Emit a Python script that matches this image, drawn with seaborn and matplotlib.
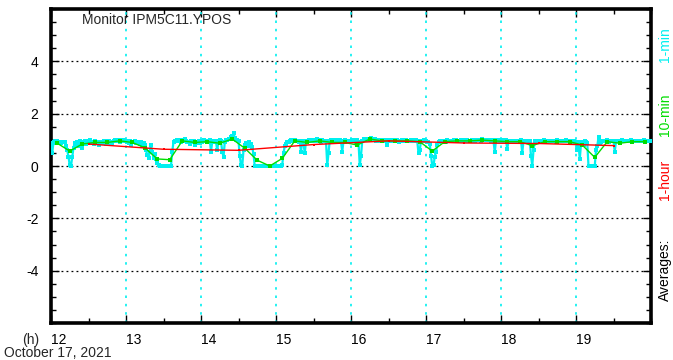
import numpy as np
import pandas as pd
import matplotlib
matplotlib.use("Agg")
import matplotlib.pyplot as plt
import seaborn as sns
from matplotlib.ticker import MultipleLocator, FixedLocator

# 1-minute averages, one row per 10 minutes starting at 12:00
one_min_rows = [
    [0.86, 0.50, 0.92, 0.95, 0.88, 0.97, 0.93, 0.90, 0.86, 0.92],
    [0.92, 0.90, 0.75, 0.60, 0.35, 0.02, 0.00, 0.35, 0.70, 0.88],
    [0.80, 0.92, 0.78, 0.95, 0.88, 0.70, 0.93, 0.97, 0.85, 0.90],
    [0.95, 0.98, 0.88, 0.92, 0.85, 0.97, 0.90, 0.93, 0.82, 0.91],
    [0.93, 0.88, 0.96, 0.90, 0.84, 0.94, 0.97, 0.89, 0.92, 0.86],
    [0.97, 0.99, 0.94, 1.00, 0.96, 0.93, 0.98, 0.95, 1.01, 0.94],
    [0.95, 0.92, 0.88, 0.97, 0.80, 0.93, 0.90, 0.96, 0.86, 0.91],
    [0.92, 0.85, 0.90, 0.75, 0.88, 0.80, 0.60, 0.42, 0.30, 0.55],
    [0.80, 0.55, 0.30, 0.45, 0.25, 0.10, 0.02, 0.00, 0.00, 0.00],
    [0.00, 0.00, 0.00, 0.00, 0.00, 0.00, 0.00, 0.55, 0.92, 0.96],
    [0.97, 1.00, 0.94, 0.98, 0.93, 0.99, 0.95, 1.02, 0.96, 0.92],
    [0.93, 0.85, 0.95, 0.90, 0.97, 0.82, 0.92, 0.88, 0.94, 0.86],
    [0.95, 0.92, 0.98, 0.94, 0.96, 0.97, 0.95, 0.99, 0.55, 0.93],
    [0.95, 0.97, 0.92, 0.60, 0.96, 1.00, 0.94, 0.55, 0.35, 0.90],
    [0.98, 1.00, 1.05, 1.02, 1.10, 1.15, 1.25, 1.08, 0.98, 1.00],
    [0.95, 0.40, 0.02, 0.00, 0.60, 0.82, 0.88, 0.75, 0.90, 0.78],
    [0.85, 0.72, 0.45, 0.00, 0.00, 0.00, 0.00, 0.00, 0.00, 0.00],
    [0.00, 0.00, 0.00, 0.00, 0.00, 0.00, 0.00, 0.00, 0.00, 0.00],
    [0.00, 0.00, 0.00, 0.00, 0.00, 0.05, 0.50, 0.75, 0.85, 0.90],
    [0.93, 0.97, 1.00, 0.95, 0.98, 1.01, 0.94, 0.97, 0.92, 0.96],
    [0.55, 0.95, 0.90, 0.48, 0.97, 0.93, 0.99, 0.94, 1.00, 0.96],
    [0.97, 0.99, 0.94, 1.02, 0.96, 0.98, 0.93, 1.00, 0.95, 0.97],
    [0.95, 0.02, 0.50, 0.97, 0.99, 0.94, 0.98, 0.96, 1.00, 0.93],
    [0.96, 0.98, 0.93, 0.55, 0.95, 0.99, 0.94, 0.97, 0.92, 0.96],
    [0.97, 0.99, 0.95, 0.98, 0.93, 1.00, 0.90, 0.02, 0.40, 0.96],
    [1.02, 1.05, 1.00, 1.04, 0.99, 1.03, 1.06, 1.01, 1.00, 1.04],
    [0.97, 0.99, 0.95, 1.00, 0.96, 0.98, 0.94, 0.99, 0.97, 0.80],
    [0.98, 0.95, 1.00, 0.97, 0.94, 0.99, 0.96, 0.98, 0.93, 0.97],
    [0.97, 0.99, 0.95, 0.98, 1.00, 0.94, 0.97, 0.96, 0.99, 0.95],
    [0.98, 0.96, 0.99, 0.95, 0.50, 0.60, 0.97, 0.94, 0.98, 0.96],
    [0.96, 0.93, 0.90, 0.85, 0.40, 0.00, 0.02, 0.35, 0.55, 0.80],
    [0.90, 0.94, 0.97, 0.95, 0.92, 0.96, 0.93, 0.98, 0.94, 0.95],
    [0.97, 0.95, 0.98, 0.96, 0.99, 0.94, 0.97, 0.96, 0.98, 0.95],
    [0.98, 0.96, 0.95, 0.99, 0.97, 0.94, 0.96, 0.98, 0.95, 0.97],
    [1.00, 0.98, 1.01, 0.99, 0.97, 1.02, 0.98, 1.00, 0.99, 1.01],
    [0.98, 1.00, 0.97, 0.99, 0.96, 0.53, 0.98, 1.00, 0.97, 0.99],
    [0.97, 0.95, 0.98, 0.96, 0.99, 0.65, 0.94, 0.97, 0.95, 0.96],
    [0.96, 0.94, 0.97, 0.95, 0.93, 0.96, 0.98, 0.50, 0.95, 0.97],
    [0.95, 0.97, 0.94, 0.96, 0.40, 0.00, 0.60, 0.95, 0.97, 0.96],
    [0.95, 0.97, 0.94, 0.96, 0.98, 0.93, 0.95, 0.97, 0.94, 0.96],
    [0.96, 0.94, 0.97, 0.95, 0.93, 0.98, 0.96, 0.94, 0.97, 0.95],
    [0.97, 0.95, 0.98, 0.96, 0.94, 0.97, 0.95, 0.93, 0.96, 0.88],
    [0.90, 0.60, 0.90, 0.25, 0.85, 0.92, 0.80, 0.95, 0.90, 0.88],
    [0.00, 0.00, 0.00, 0.00, 0.00, 0.00, 0.60, 0.75, 1.10, 0.88],
    [0.90, 0.95, 0.97, 0.94, 0.96, 0.98, 0.93, 0.95, 0.97, 0.94],
    [0.96, 0.55, 0.94, 0.97, 0.95, 0.93, 0.96, 0.98, 0.94, 0.95],
    [0.95, 0.97, 0.94, 0.96, 0.98, 0.93, 0.95, 0.97, 0.94, 0.96],
    [0.96, 0.94, 0.97, 0.95, 0.98, 0.93, 0.96, 0.94, 0.97, 0.95],
]

# 10-minute averages (centred on each 10-minute block)
ten_min = [
    0.87, 0.57, 0.84, 0.90, 0.90, 0.96,
    0.90, 0.70, 0.27, 0.24, 0.96, 0.90,
    0.93, 0.87, 1.03, 0.68, 0.22, 0.00,
    0.29, 0.96, 0.90, 0.96, 0.90, 0.90,
    0.80, 1.03, 0.96, 0.96, 0.96, 0.93,
    0.57, 0.93, 0.96, 0.96, 0.99, 0.96,
    0.93, 0.93, 0.78, 0.93, 0.93, 0.93,
    0.80, 0.33, 0.93, 0.87, 0.93, 0.93,
]

# 1-hour averages (centred on each hour)
one_hour = [0.84, 0.64, 0.60, 0.82, 0.96, 0.88, 0.86, 0.78]

x_ticks = [12, 13, 14, 15, 16, 17, 18, 19]
y_ticks = [-4, -2, 0, 2, 4]

one_min = [v for row in one_min_rows for v in row]
df_min = pd.DataFrame({"hour": 12 + np.arange(len(one_min)) / 60.0, "value": one_min})
df_ten = pd.DataFrame({"hour": 12 + (np.arange(len(ten_min)) + 0.5) / 6.0, "value": ten_min})
df_hour = pd.DataFrame({"hour": 12.5 + np.arange(len(one_hour)), "value": one_hour})

sns.set_style("ticks")
plt.rcParams["font.family"] = ["Liberation Sans", "DejaVu Sans"]

fig = plt.figure(figsize=(6.73, 3.6), dpi=100)
ax = fig.add_axes([51 / 673, 37 / 360, 600 / 673, 314 / 360])

CYAN = "#00f0f0"
GREEN = "#00dd00"
RED = "#ff0000"

sns.lineplot(data=df_min, x="hour", y="value", ax=ax, color=CYAN, linewidth=1.6,
             marker="s", markersize=2.8, markeredgewidth=0, zorder=3)
sns.lineplot(data=df_ten, x="hour", y="value", ax=ax, color=GREEN, linewidth=1.0,
             marker="s", markersize=3.5, markeredgewidth=0, zorder=4)
sns.lineplot(data=df_hour, x="hour", y="value", ax=ax, color=RED, linewidth=1.0,
             marker="s", markersize=1.8, markeredgewidth=0, zorder=5)

ax.set_xlim(12, 20)
ax.set_ylim(-6, 6)

# grid: cyan dotted verticals at each hour, black dotted horizontals
for h in x_ticks[1:]:
    ax.axvline(h, color=CYAN, linestyle=(0, (1.5, 3.5)), linewidth=1.2, zorder=1)
for v in y_ticks:
    ax.axhline(v, color="black", linestyle=(0, (1.5, 2.5)), linewidth=0.9, zorder=1)

ax.xaxis.set_major_locator(FixedLocator(x_ticks))
ax.xaxis.set_minor_locator(MultipleLocator(0.5))
ax.yaxis.set_major_locator(FixedLocator(y_ticks))
ax.yaxis.set_minor_locator(MultipleLocator(0.5))
ax.set_xticklabels([str(t) for t in x_ticks])
ax.set_yticklabels([str(t) for t in y_ticks])
for lbl in ax.get_xticklabels():
    lbl.set_horizontalalignment("left")

ax.tick_params(which="both", direction="in", top=True, right=True, colors="black",
               labelsize=10)
ax.tick_params(which="major", length=6, width=1.0)
ax.tick_params(which="minor", length=3.5, width=1.0)
ax.tick_params(axis="x", pad=7)
ax.tick_params(axis="y", pad=9)

for s in ax.spines.values():
    s.set_linewidth(2.6)
    s.set_color("black")

ax.set_xlabel("")
ax.set_ylabel("")

ax.text(82 / 673, 1 - 20 / 360, "Monitor IPM5C11.YPOS", transform=fig.transFigure,
        fontsize=10, ha="left", va="center")

fig.text(22 / 673, 1 - 340 / 360, "(h)", fontsize=10, ha="left", va="center")
fig.text(4 / 673, 1 - 353 / 360, "October 17, 2021", fontsize=10, ha="left", va="center")

fig.text(665 / 673, 1 - 45 / 360, "1-min", color=CYAN, fontsize=10, rotation=90,
         ha="center", va="center")
fig.text(665 / 673, 1 - 115 / 360, "10-min", color=GREEN, fontsize=10, rotation=90,
         ha="center", va="center")
fig.text(665 / 673, 1 - 180 / 360, "1-hour", color=RED, fontsize=10, rotation=90,
         ha="center", va="center")
fig.text(665 / 673, 1 - 270 / 360, "Averages:", color="black", fontsize=10, rotation=90,
         ha="center", va="center")

fig.savefig("out.png", dpi=100, facecolor="white")
